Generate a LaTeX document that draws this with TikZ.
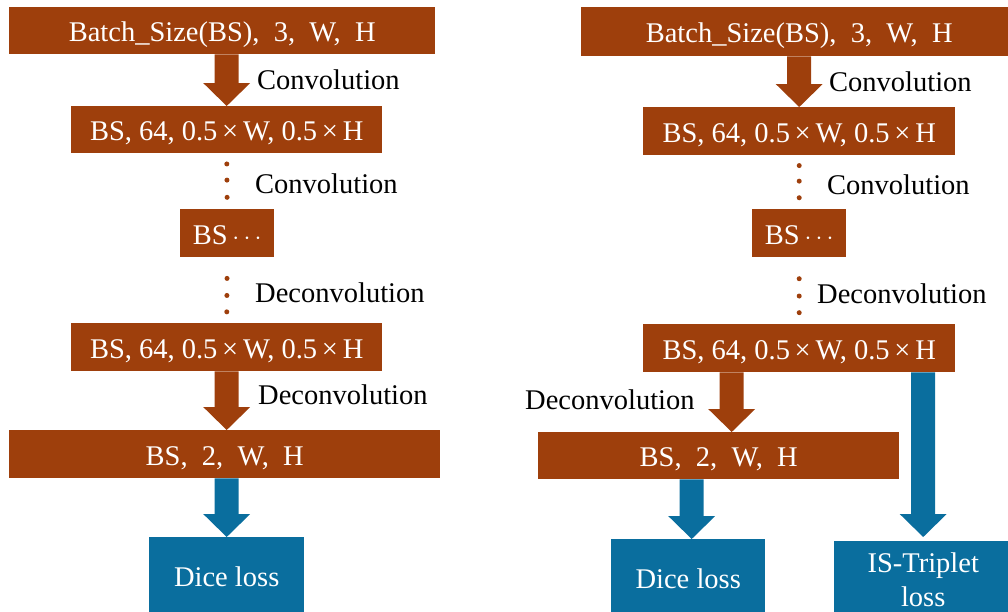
\documentclass[tikz,border=0pt]{standalone}
\usepackage{fontspec}
\setmainfont{Liberation Serif}
\usepackage{xcolor}
\usepackage{tikz}
\usetikzlibrary{calc,positioning}

\definecolor{rust}{RGB}{158,63,12}
\definecolor{sea}{RGB}{10,110,158}

\newcommand{\by}{\,×\,}

\tikzset{
    base/.style={
        text=white,
        anchor=north west,
        inner sep=0pt
    },
    box/.style={
        base,
        fill=rust,
        text height=22pt,
        text depth=0pt
    },
    lossbox/.style={
        box,
        fill=sea
    },
    lbl/.style={
        anchor=west,
        inner sep=0pt
    },
    blockarrow/.style={
        to path={
            let \p1=(\tikztostart), \p2=(\tikztotarget) in
            (\x1-12pt,\y1) -- (\x1-12pt,\y2+23pt) -- (\x1-23.5pt,\y2+23pt)
            -- (\x1,\y2) -- (\x1+23.5pt,\y2+23pt) -- (\x1+12pt,\y2+23pt)
            -- (\x1+12pt,\y1) -- cycle
        }
    }
}

\begin{document}
\begin{tikzpicture}[x=1pt, y=-1pt, font=\fontsize{28.5pt}{34pt}\selectfont]

                \useasboundingbox (0,0) rectangle (1008,611);
                \clip (0,0) rectangle (1008,611);

                % left column
                \node[box, minimum width=426pt, minimum height=47pt] (L1) at (9,7) {Batch\_Size(BS),\ \ 3,\ \ W,\ \ H};
                \node[box, minimum width=311pt, minimum height=47pt] (L2) at (71,106) {BS, 64, 0.5\by W, 0.5\by H};
                \node[box, minimum width=94pt, minimum height=48pt] (L3) at (180,209) {BS\,$\cdots$};
                \node[box, minimum width=311pt, minimum height=48pt] (L4) at (71,323) {BS, 64, 0.5\by W, 0.5\by H};
                \node[box, minimum width=431pt, minimum height=48pt] (L5) at (9,430) {BS,\ \ 2,\ \ W,\ \ H};
                \node[lossbox, minimum width=155pt, minimum height=77pt] (L6) at (149,537) {Dice loss};

                \node[lbl] (lc1) at (257,80) {Convolution};
                \node[lbl] (lc2) at (255,184) {Convolution};
                \node[lbl] (ld1) at (255,293) {Deconvolution};
                \node[lbl] (ld2) at (258,395) {Deconvolution};

                \fill[rust] (L2.north |- L1.south) to[blockarrow] (L2.north);
                \fill[rust] (L4.south) to[blockarrow] (L5.north);
                \fill[sea] (L6.north |- L5.south) to[blockarrow] (L6.north);

                \foreach \f in {0.19,0.48,0.79}
                    \fill[rust] ($(L2.south)!\f!(L3.north)$) circle (2.5pt);
                \foreach \f in {0.32,0.58,0.83}
                    \fill[rust] ($(L3.south)!\f!(L4.north)$) circle (2.5pt);

                % right column
                \node[box, minimum width=436pt, minimum height=49pt] (R1) at (581,7) {Batch\_Size(BS),\ \ 3,\ \ W,\ \ H};
                \node[box, minimum width=312pt, minimum height=48pt] (R2) at (643,107) {BS, 64, 0.5\by W, 0.5\by H};
                \node[box, minimum width=94pt, minimum height=48pt] (R3) at (752,209) {BS\,$\cdots$};
                \node[box, minimum width=312pt, minimum height=48pt] (R4) at (643,324) {BS, 64, 0.5\by W, 0.5\by H};
                \node[box, minimum width=361pt, minimum height=47pt] (R5) at (538,432) {BS,\ \ 2,\ \ W,\ \ H};
                \node[lossbox, minimum width=154pt, minimum height=77pt] (R6) at (611,539) {Dice loss};
                \node[base, fill=sea, minimum width=178pt, minimum height=77pt, align=center] (R7) at (834,541) {IS-Triplet\\loss};

                \node[lbl] (rc1) at (829,82) {Convolution};
                \node[lbl] (rc2) at (827,185) {Convolution};
                \node[lbl] (rd1) at (817,294) {Deconvolution};
                \node[lbl] (rd2) at (525,400) {Deconvolution};

                \fill[rust] (R2.north |- R1.south) to[blockarrow] (R2.north);
                \fill[rust] ([xshift=13pt]R5.north |- R4.south) to[blockarrow] (R5.north);
                \fill[sea] ([xshift=3.5pt]R6.north |- R5.south) to[blockarrow] (R6.north);
                \fill[sea] (R7.north |- R4.south) to[blockarrow] ([yshift=4pt]R7.north);

                \foreach \f in {0.19,0.48,0.79}
                    \fill[rust] ($(R2.south)!\f!(R3.north)$) circle (2.5pt);
                \foreach \f in {0.32,0.58,0.83}
                    \fill[rust] ($(R3.south)!\f!(R4.north)$) circle (2.5pt);

            \end{tikzpicture}
\end{document}
